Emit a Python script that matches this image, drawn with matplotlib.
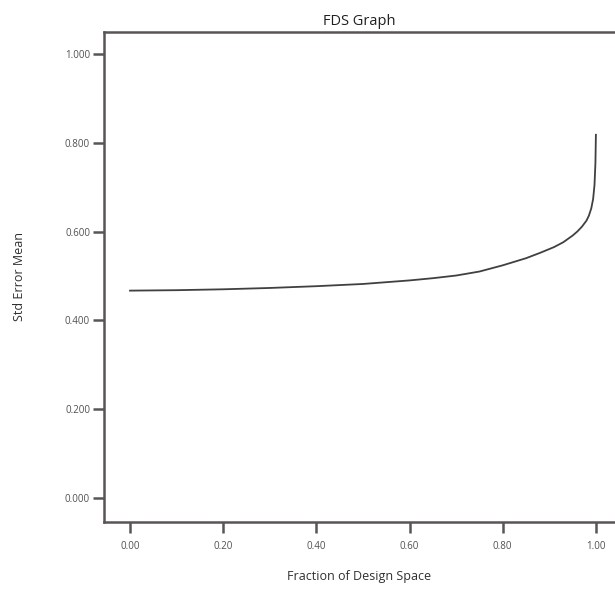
import numpy
import matplotlib
matplotlib.use("Agg")
import matplotlib.pyplot as plt

# FDS curve
fraction = [0.0, 0.10, 0.20, 0.30, 0.40, 0.50, 0.60, 0.65, 0.70, 0.75,
            0.80, 0.85, 0.88, 0.91, 0.93, 0.95, 0.96, 0.97, 0.98, 0.985,
            0.99, 0.994, 0.997, 0.999, 1.0]
std_error = [0.467, 0.468, 0.470, 0.473, 0.477, 0.482, 0.490, 0.495, 0.501, 0.510,
             0.524, 0.540, 0.552, 0.565, 0.576, 0.591, 0.600, 0.611, 0.625, 0.636,
             0.652, 0.673, 0.705, 0.755, 0.818]

x_ticks = [0.0, 0.2, 0.4, 0.6, 0.8, 1.0]
y_ticks = [0.0, 0.2, 0.4, 0.6, 0.8, 1.0]

plt.rcParams['font.family'] = ['Open Sans', 'DejaVu Sans']

fig = plt.figure(figsize=(6.15, 5.9), dpi=100)
ax = fig.add_axes([0.169, 0.1153, 0.831, 0.8305])

ax.plot(fraction, std_error, color='#404040', linewidth=1.3)

ax.set_xlim(-0.056, 1.041)
ax.set_ylim(-0.054, 1.0495)
ax.set_xticks(x_ticks)
ax.set_xticklabels(['%.2f' % v for v in x_ticks])
ax.set_yticks(y_ticks)
ax.set_yticklabels(['%.3f' % v for v in y_ticks])

for side in ['left', 'bottom', 'top']:
    ax.spines[side].set_color('#5a5555')
    ax.spines[side].set_linewidth(1.8)
ax.spines['right'].set_visible(False)

ax.tick_params(axis='both', colors='#5a5555', labelcolor='#505050',
               labelsize=7, length=8, width=1.8)
ax.tick_params(axis='x', pad=6)
ax.tick_params(axis='y', pad=2)

ax.set_title('FDS Graph', fontsize=10.5, color='#202020', pad=5)
ax.set_xlabel('Fraction of Design Space', fontsize=9, color='#303030', labelpad=13)
ax.set_ylabel('Std Error Mean', fontsize=9, color='#303030', labelpad=28)

fig.savefig('out.png', dpi=100)
